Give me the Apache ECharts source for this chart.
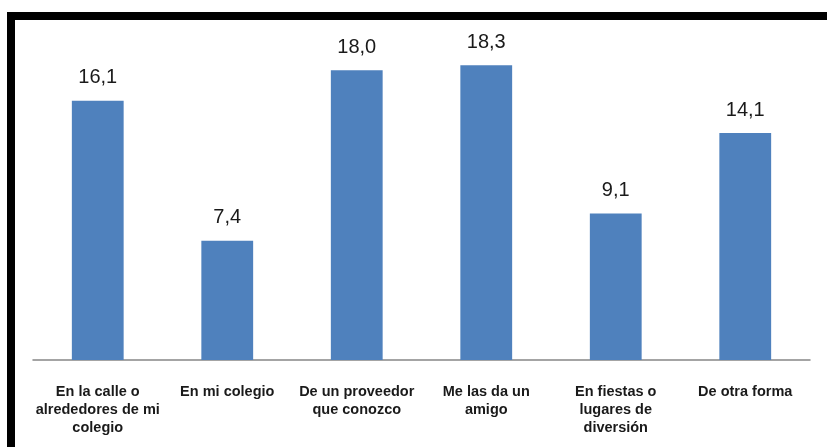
<!DOCTYPE html>
<html>
<head>
<meta charset="utf-8">
<style>
html,body{margin:0;padding:0;background:#fff;}
#chart{width:827px;height:447px;}
</style>
<script src="https://cdn.jsdelivr.net/npm/echarts@6/dist/echarts.min.js"></script>
</head>
<body>
<div id="chart"></div>
<script>
const categories = ["En la calle o alrededores de mi colegio", "En mi colegio", "De un proveedor que conozco", "Me las da un amigo", "En fiestas o lugares de diversión", "De otra forma"];
const tickLabels = ["En la calle o\nalrededores de mi\ncolegio", "En mi colegio", "De un proveedor\nque conozco", "Me las da un\namigo", "En fiestas o\nlugares de\ndiversión", "De otra forma"];
const values = [16.1, 7.4, 18.0, 18.3, 9.1, 14.1];

const chart = echarts.init(document.getElementById('chart'));
chart.setOption({
  animation: false,
  backgroundColor: '#ffffff',
  grid: {left: 33, right: 17, top: 38, bottom: 87},
  xAxis: {
    type: 'category',
    data: categories,
    axisLine: {lineStyle: {color: '#868686', width: 1.5}},
    axisTick: {show: false},
    axisLabel: {
      interval: 0,
      margin: 23,
      color: '#1a1a1a',
      fontFamily: 'Liberation Sans, Arial, sans-serif',
      fontWeight: 'bold',
      fontSize: 14.5,
      lineHeight: 18,
      formatter: function (v, i) { return tickLabels[i]; }
    }
  },
  yAxis: {
    type: 'value', min: 0, max: 20, show: false, splitLine: {show: false}
  },
  series: [{
    type: 'bar',
    data: values,
    barWidth: '40%',
    itemStyle: {color: '#4F81BD'},
    label: {
      show: true,
      position: 'top',
      distance: 13,
      color: '#1a1a1a',
      fontFamily: 'Liberation Sans, Arial, sans-serif',
      fontSize: 20,
      lineHeight: 20,
      formatter: function (p) { return p.value.toFixed(1).replace('.', ','); }
    }
  }],
  graphic: [
    {type: 'rect', shape: {x: 7, y: 12, width: 8, height: 435}, style: {fill: '#000'}},
    {type: 'rect', shape: {x: 7, y: 12, width: 820, height: 8}, style: {fill: '#000'}}
  ]
});
</script>
</body>
</html>
